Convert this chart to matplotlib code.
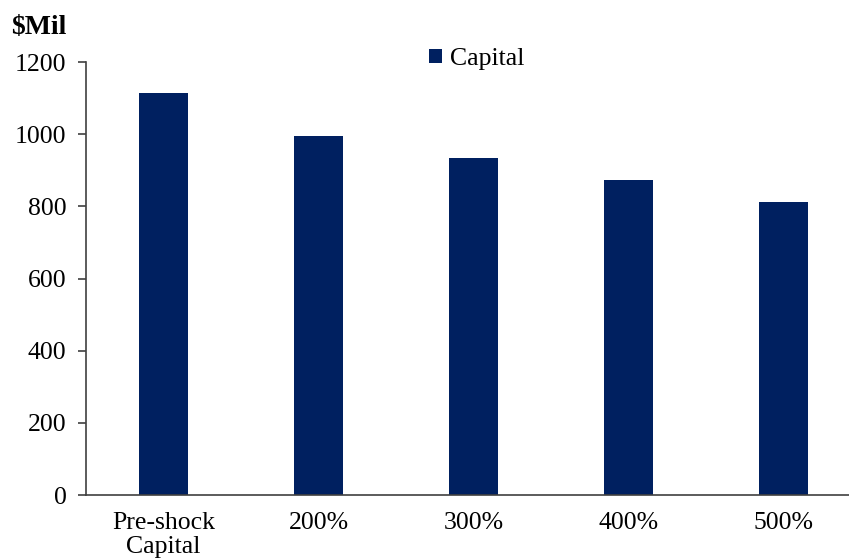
import matplotlib.pyplot as plt

categories = ['Pre-shock\nCapital', '200%', '300%', '400%', '500%']
capital = [1115, 995, 935, 873, 812]

plt.rcParams['font.family'] = ['Liberation Serif', 'DejaVu Serif']

fig = plt.figure(figsize=(8.49, 5.59), dpi=100)
# axes extend past right edge of figure as in the reference crop
ax = fig.add_axes([86 / 849, 1 - 495 / 559, 775 / 849, 433 / 559])

x = range(len(categories))
ax.bar(x, capital, width=0.316, color='#002060', label='Capital')

ax.set_xlim(-0.5, 4.5)
ax.set_ylim(0, 1200)
ax.set_yticks(range(0, 1201, 200))
ax.set_xticks(list(x))
ax.set_xticklabels(categories, fontsize=18.5, linespacing=1.15)
ax.tick_params(axis='y', labelsize=18.5, direction='out', length=6, width=1.2, color='#404040', pad=8)
ax.tick_params(axis='x', length=0, pad=12)

for s in ['top', 'right']:
    ax.spines[s].set_visible(False)
for s in ['left', 'bottom']:
    ax.spines[s].set_color('#404040')
    ax.spines[s].set_linewidth(1.2)

fig.text(11 / 849, 1 - 27 / 559, '$Mil', fontsize=20, fontweight='bold', va='center', ha='left')

ax.legend(loc='upper left', bbox_to_anchor=(411 / 849, 1 - 30 / 559), bbox_transform=fig.transFigure,
          frameon=False, fontsize=18.5, handlelength=0.5, handleheight=0.5, handletextpad=0.3,
          borderpad=0.2)

fig.savefig('out.png', dpi=100)
